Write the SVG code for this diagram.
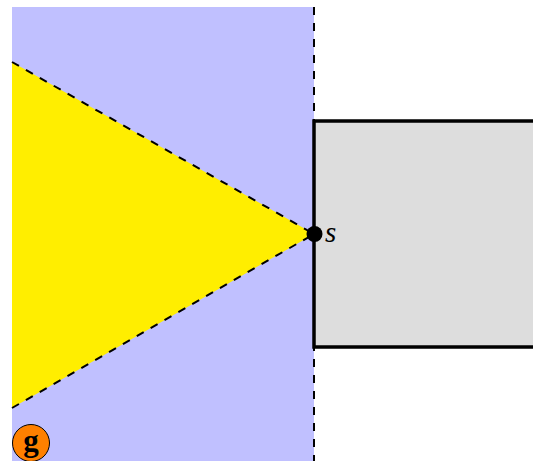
<svg xmlns="http://www.w3.org/2000/svg" width="533" height="461" viewBox="0 0 533 461">
<style>
.dash{stroke:#000;stroke-width:2;stroke-dasharray:8 8;fill:none}
</style>
<rect width="533" height="461" fill="#fff"/>
<g id="halfplane"><rect x="12" y="7" width="302" height="454" fill="#c0c0ff"/></g>
<g id="cone"><polygon points="12,62 314,234 12,408" fill="#ffee00"/></g>
<g id="box"><rect x="314" y="121" width="240" height="226" fill="#dddddd" stroke="#000" stroke-width="3.5"/></g>
<g id="connectors">
<line class="dash" x1="314" y1="7" x2="314" y2="461"/>
<line class="dash" x1="12" y1="62" x2="314" y2="234"/>
<line class="dash" x1="12" y1="408" x2="314" y2="234"/>
</g>
<g id="s"><circle cx="314.5" cy="234" r="8" fill="#000"/><text x="325" y="242" font-family="Liberation Serif, serif" font-style="italic" font-size="29">s</text></g>
<g id="g"><circle cx="31" cy="443" r="18.5" fill="#ff8000" stroke="#000" stroke-width="1"/><text x="31" y="451" text-anchor="middle" font-family="Liberation Serif, serif" font-weight="bold" font-size="31">g</text></g>
</svg>
